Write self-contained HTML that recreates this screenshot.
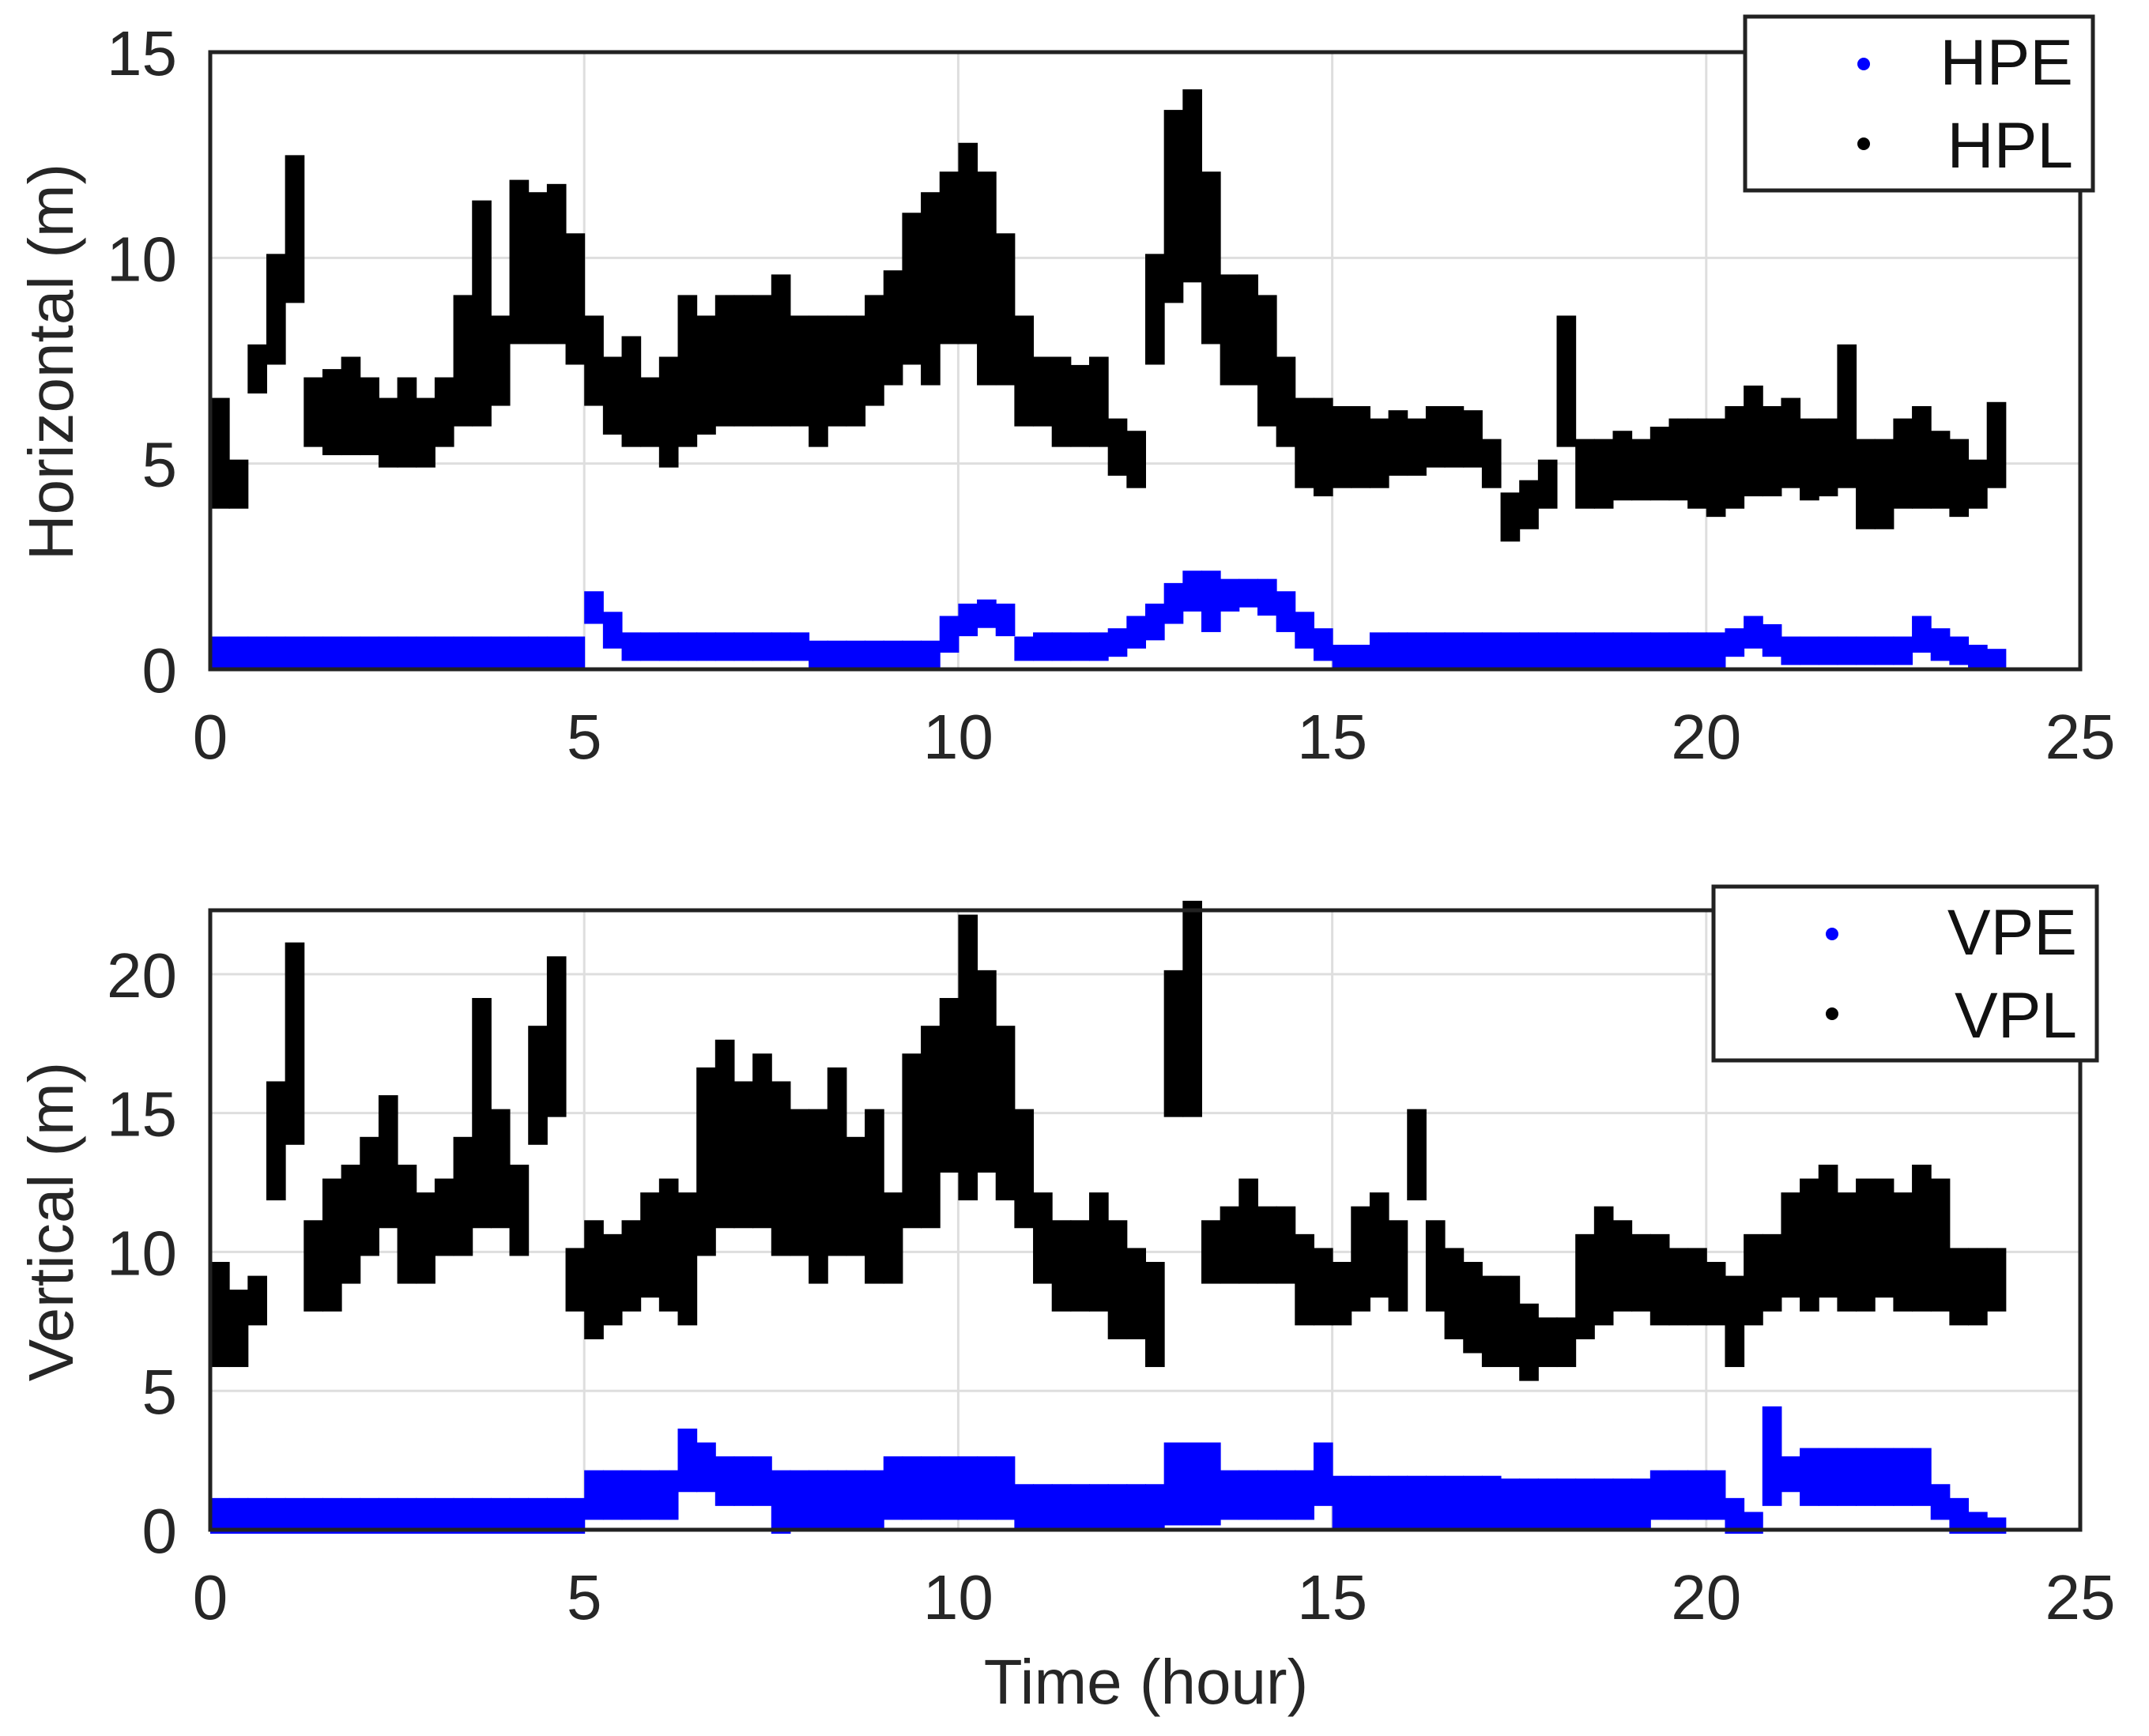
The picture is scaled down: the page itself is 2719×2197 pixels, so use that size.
<!DOCTYPE html>
<html><head><meta charset="utf-8"><style>
html,body{margin:0;padding:0;background:#fff;}
svg{display:block;font-family:"Liberation Sans",Arial,sans-serif;}
</style></head><body>
<svg id="chart" width="2719" height="2197" viewBox="0 0 2719 2197" xmlns="http://www.w3.org/2000/svg">
<rect width="2719" height="2197" fill="#fff"/>
<g id="g1"></g>
<g id="g2"></g>
<text x="1450" y="2156" font-size="80" text-anchor="middle" fill="#262626">Time (hour)</text>
<text transform="translate(92,458) rotate(-90)" font-size="80" text-anchor="middle" fill="#262626">Horizontal (m)</text>
<text transform="translate(92,1546) rotate(-90)" font-size="80" text-anchor="middle" fill="#262626">Vertical (m)</text>
</svg>
<script>
const xTicks=[0,5,10,15,20,25];
const hTicks=[0,5,10,15];
const vTicks=[0,5,10,15,20];
const binHours=0.25;
const hplLo=[4,4,6.8,7.5,9,5.5,5.3,5.3,5.3,5,5,5,5.5,6,6,6.5,8,8,8,7.5,6.5,5.8,5.5,5.5,5,5.5,5.8,6,6,6,6,6,5.5,6,6,6.5,7,7.5,7,8,8,7,7,6,6,5.5,5.5,5.5,4.8,4.5,7.5,9,9.5,8,7,7,6,5.5,4.5,4.3,4.5,4.5,4.5,4.8,4.8,5,5,5,4.5,3.2,3.5,4,5.5,4,4,4.2,4.2,4.2,4.2,4,3.8,4,4.3,4.3,4.5,4.2,4.3,4.5,3.5,3.5,4,4,4,3.8,4,4.5];
const hplHi=[6.5,5,7.8,10,12.4,7,7.2,7.5,7,6.5,7,6.5,7,9,11.3,8.5,11.8,11.5,11.7,10.5,8.5,7.5,8,7,7.5,9,8.5,9,9,9,9.5,8.5,8.5,8.5,8.5,9,9.6,11,11.5,12,12.7,12,10.5,8.5,7.5,7.5,7.3,7.5,6,5.7,10,13.5,14,12,9.5,9.5,9,7.5,6.5,6.5,6.3,6.3,6,6.2,6,6.3,6.3,6.2,5.5,4.2,4.5,5,8.5,5.5,5.5,5.7,5.5,5.8,6,6,6,6.3,6.8,6.3,6.5,6,6,7.8,5.5,5.5,6,6.3,5.7,5.5,5,6.4];
const hpeLo=[.1,.1,.1,.1,.1,.1,.1,.1,.1,.1,.1,.1,.1,.1,.1,.1,.1,.1,.1,.1,1.2,.6,.3,.3,.3,.3,.3,.3,.3,.3,.3,.3,.1,.1,.1,.1,.1,.1,.1,.5,.9,1.1,.9,.3,.3,.3,.3,.3,.4,.6,.8,1.2,1.5,1,1.5,1.6,1.4,1,.6,.3,.1,.1,.1,.1,.1,.1,.1,.1,.1,.1,.1,.1,.1,.1,.1,.1,.1,.1,.1,.1,.1,.4,.6,.4,.2,.2,.2,.2,.2,.2,.2,.5,.3,.2,.1,.1];
const hpeHi=[.7,.7,.7,.7,.7,.7,.7,.7,.7,.7,.7,.7,.7,.7,.7,.7,.7,.7,.7,.7,1.8,1.3,.8,.8,.8,.8,.8,.8,.8,.8,.8,.8,.6,.6,.6,.6,.6,.6,.6,1.2,1.5,1.6,1.5,.7,.8,.8,.8,.8,.9,1.2,1.5,2,2.3,2.3,2.1,2.1,2.1,1.8,1.3,.9,.5,.5,.8,.8,.8,.8,.8,.8,.8,.8,.8,.8,.8,.8,.8,.8,.8,.8,.8,.8,.8,.9,1.2,1,.7,.7,.7,.7,.7,.7,.7,1.2,.9,.7,.5,.4];
const vplLo=[6,6,7.5,12,14,8,8,9,10,11,9,9,10,10,11,11,10,14,15,8,7,7.5,8,8.5,8,7.5,10,11,11,11,10,10,9,10,10,9,9,11,11,13,12,13,12,11,9,8,8,8,7,7,6,15,15,9,9,9,9,9,7.5,7.5,7.5,8,8.5,8,12,8,7,6.5,6,6,5.5,6,6,7,7.5,8,8,7.5,7.5,7.5,7.5,6,7.5,8,8.5,8,8.5,8,8,8.5,8,8,8,7.5,7.5,8];
const vplHi=[9.5,8.5,9,16,21,11,12.5,13,14,15.5,13,12,12.5,14,19,15,13,18,20.5,10,11,10.5,11,12,12.5,12,16.5,17.5,16,17,16,15,15,16.5,14,15,12,17,18,19,22,20,18,15,12,11,11,12,11,10,9.5,20,22.5,11,11.5,12.5,11.5,11.5,10.5,10,9.5,11.5,12,11,15,11,10,9.5,9,9,8,7.5,7.5,10.5,11.5,11,10.5,10.5,10,10,9.5,9,10.5,10.5,12,12.5,13,12,12.5,12.5,12,13,12.5,10,10,10];
const vpeLo=[0,0,0,0,0,0,0,0,0,0,0,0,0,0,0,0,0,0,0,0,.5,.5,.5,.5,.5,1.5,1.5,1,1,1,0,.2,.2,.2,.2,.2,.5,.5,.5,.5,.5,.5,.5,.2,.2,.2,.2,.2,.2,.2,.2,.3,.3,.3,.5,.5,.5,.5,.5,1,.2,.2,.2,.2,.2,.2,.2,.2,.2,.2,.2,.2,.2,.2,.2,.2,.2,.5,.5,.5,.5,0,0,1,1.5,1,1,1,1,1,1,1,.5,0,0,0];
const vpeHi=[1,1,1,1,1,1,1,1,1,1,1,1,1,1,1,1,1,1,1,1,2,2,2,2,2,3.5,3,2.5,2.5,2.5,2,2,2,2,2,2,2.5,2.5,2.5,2.5,2.5,2.5,2.5,1.5,1.5,1.5,1.5,1.5,1.5,1.5,1.5,3,3,3,2,2,2,2,2,3,1.8,1.8,1.8,1.8,1.8,1.8,1.8,1.8,1.8,1.7,1.7,1.7,1.7,1.7,1.7,1.7,1.7,2,2,2,2,1,.5,4.3,2.5,2.8,2.8,2.8,2.8,2.8,2.8,2.8,1.5,1,.5,.3];

const NS='http://www.w3.org/2000/svg';
function mk(tag,attrs,parent){const e=document.createElementNS(NS,tag);for(const k in attrs)e.setAttribute(k,attrs[k]);parent.appendChild(e);return e;}
const X0=266,X1=2632;
function sx(v){return X0+(v-0)/(25-0)*(X1-X0);}
function panel(g,top,bot,yMax,ticks,series,leg){
  const sy=v=>bot-(v/yMax)*(bot-top);
  xTicks.forEach(t=>{const l=mk('line',{x1:sx(t),x2:sx(t),y1:top,y2:bot,stroke:'#dedede','stroke-width':3},g);
    
    
    const tx=mk('text',{x:sx(t),y:bot+113,'font-size':80,'text-anchor':'middle',fill:'#262626'},g);tx.textContent=t;
    
    });
  ticks.forEach(t=>{const l=mk('line',{x1:X0,x2:X1,y1:sy(t),y2:sy(t),stroke:'#dedede','stroke-width':3},g);
    
    
    const tx=mk('text',{x:224,y:sy(t)+29,'font-size':80,'text-anchor':'end',fill:'#262626'},g);tx.textContent=t;
    
    });
  series.forEach(s=>{
    for(let i=0;i<s.lo.length;i++){
      const t=i*binHours;
      const r=mk('rect',{x:sx(t),y:sy(s.hi[i])-5,width:sx(t+binHours)-sx(t)+1,height:sy(s.lo[i])-sy(s.hi[i])+10,fill:s.color},g);
      
      
    }
  });
  const fr=mk('rect',{x:X0,y:top,width:X1-X0,height:bot-top,fill:'none',stroke:'#222','stroke-width':5},g);
  
  
  const lg=mk('g',{},g);
  
  
  mk('rect',{x:leg.x,y:leg.y,width:leg.w,height:220,fill:'#fff',stroke:'#222','stroke-width':5},lg);
  leg.items.forEach((it,k)=>{
    const c=mk('circle',{cx:leg.x+leg.dot,cy:leg.y+60+k*101,r:8,fill:it.color},lg);
    
    
    const tx=mk('text',{x:leg.x+leg.w-25,y:leg.y+86+k*105,'font-size':82,'text-anchor':'end',fill:'#111'},lg);tx.textContent=it.label;
    
    
  });
}
panel(document.getElementById('g1'),66,847,15,hTicks,
 [{name:'hpl',lo:hplLo,hi:hplHi,color:'#000'},{name:'hpe',lo:hpeLo,hi:hpeHi,color:'#0000ff'}],
 {x:2208,y:21,w:440,dot:150,items:[{label:'HPE',color:'#0000ff'},{label:'HPL',color:'#000'}]});
panel(document.getElementById('g2'),1152,1936,22.3,vTicks,
 [{name:'vpl',lo:vplLo,hi:vplHi,color:'#000'},{name:'vpe',lo:vpeLo,hi:vpeHi,color:'#0000ff'}],
 {x:2168,y:1122,w:485,dot:150,items:[{label:'VPE',color:'#0000ff'},{label:'VPL',color:'#000'}]});
</script>
</body></html>
